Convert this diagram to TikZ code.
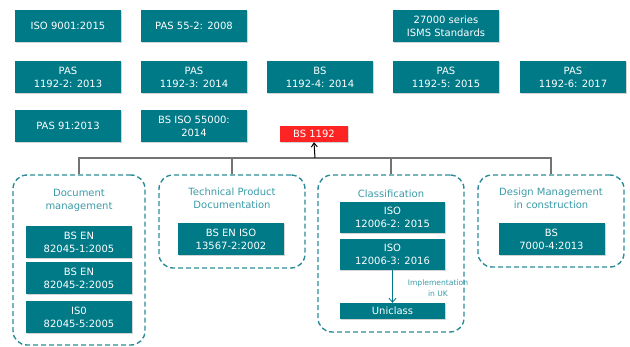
\documentclass[tikz,border=0pt]{standalone}
\usepackage{fontspec}
\setmainfont{DejaVu Sans}
\usetikzlibrary{arrows.meta,shadows}
\definecolor{stdteal}{RGB}{0,122,135}
\definecolor{grpteal}{RGB}{45,140,153}
\definecolor{titleteal}{RGB}{58,155,168}
\definecolor{bsred}{RGB}{255,36,36}
\tikzset{
  stdbox/.style={fill=stdteal, text=white, minimum width=106pt, minimum height=32pt,
    inner sep=0pt, align=center, font=\fontsize{10}{13}\selectfont,
    drop shadow={shadow xshift=1pt, shadow yshift=-1pt, opacity=0.35}},
  groupbox/.style={draw=grpteal, line width=1.4pt, dash pattern=on 5pt off 3pt,
    rounded corners=14pt, inner sep=0pt},
  grouptitle/.style={text=titleteal, align=center, font=\fontsize{10}{13}\selectfont},
  barline/.style={draw=black!55, line width=1.1pt}
}
\begin{document}
\begin{tikzpicture}[x=1pt, y=-1pt]
    \useasboundingbox (0,0) rectangle (630,347);
    % related standards
    \node[stdbox] (iso9001) at (68,26) {ISO 9001:2015};
    \node[stdbox] (pas55) at (194,26) {PAS 55-2: 2008};
    \node[stdbox] (isms) at (446,26) {27000 series\\ISMS Standards};
    \node[stdbox] (pas2) at (68,77) {PAS\\1192-2: 2013};
    \node[stdbox] (pas3) at (194,77) {PAS\\1192-3: 2014};
    \node[stdbox] (bs4) at (320,77) {BS\\1192-4: 2014};
    \node[stdbox] (pas5) at (446,77) {PAS\\1192-5: 2015};
    \node[stdbox] (pas6) at (573,77) {PAS\\1192-6: 2017};
    \node[stdbox] (pas91) at (68,126) {PAS 91:2013};
    \node[stdbox] (iso55) at (194,126) {BS ISO 55000:\\2014};
    \node[stdbox, fill=bsred, minimum width=68pt, minimum height=16pt] (bs1192) at (314,134) {BS 1192};
    % groups
    \node[groupbox, minimum width=132pt, minimum height=170pt] (docgrp) at (79,260) {};
    \node[groupbox, minimum width=146pt, minimum height=93pt] (tpdgrp) at (232,221.5) {};
    \node[groupbox, minimum width=146pt, minimum height=157pt] (clsgrp) at (391,253.5) {};
    \node[groupbox, minimum width=146pt, minimum height=92pt] (dmgrp) at (551,221) {};
    \node[grouptitle] (doctitle) at (79,200) {Document\\management};
    \node[grouptitle] (tpdtitle) at (232,198) {Technical Product\\Documentation};
    \node[grouptitle] (clstitle) at (391,194) {Classification};
    \node[grouptitle] (dmtitle) at (551,198) {Design Management\\in construction};
    \node[stdbox] (bsen1) at (79,242) {BS EN\\82045-1:2005};
    \node[stdbox] (bsen2) at (79,278.5) {BS EN\\82045-2:2005};
    \node[stdbox] (iso5) at (79,317.5) {IS0\\82045-5:2005};
    \node[stdbox] (iso13567) at (231,239) {BS EN ISO\\13567-2:2002};
    \node[stdbox, minimum width=105pt, minimum height=31pt] (iso2) at (392.5,217.5) {ISO\\12006-2: 2015};
    \node[stdbox, minimum width=105pt, minimum height=31pt] (iso3) at (392.5,254.5) {ISO\\12006-3: 2016};
    \node[stdbox, minimum width=105pt, minimum height=16pt] (uniclass) at (392.5,311) {Uniclass};
    \node[stdbox] (bs7000) at (551.5,239) {BS\\7000-4:2013};
    \node[text=titleteal, align=center, font=\fontsize{7.6}{11}\selectfont] (impl) at (438,288) {Implementation\\in UK};
    % connectors
    \coordinate (hub) at (315,158);
    \draw[barline] (docgrp.north) |- (hub) -| (dmgrp.north);
    \draw[barline] (tpdgrp.north) |- (hub);
    \draw[barline] (clsgrp.north) |- (hub);
    \draw[-{Straight Barb[length=4pt,width=6pt]}, line width=1pt] (hub) -- (bs1192.south);
    \draw[-{Straight Barb[length=4pt,width=7pt]}, draw=stdteal, line width=0.8pt] (iso3.south) -- (uniclass.north);
\end{tikzpicture}
\end{document}
